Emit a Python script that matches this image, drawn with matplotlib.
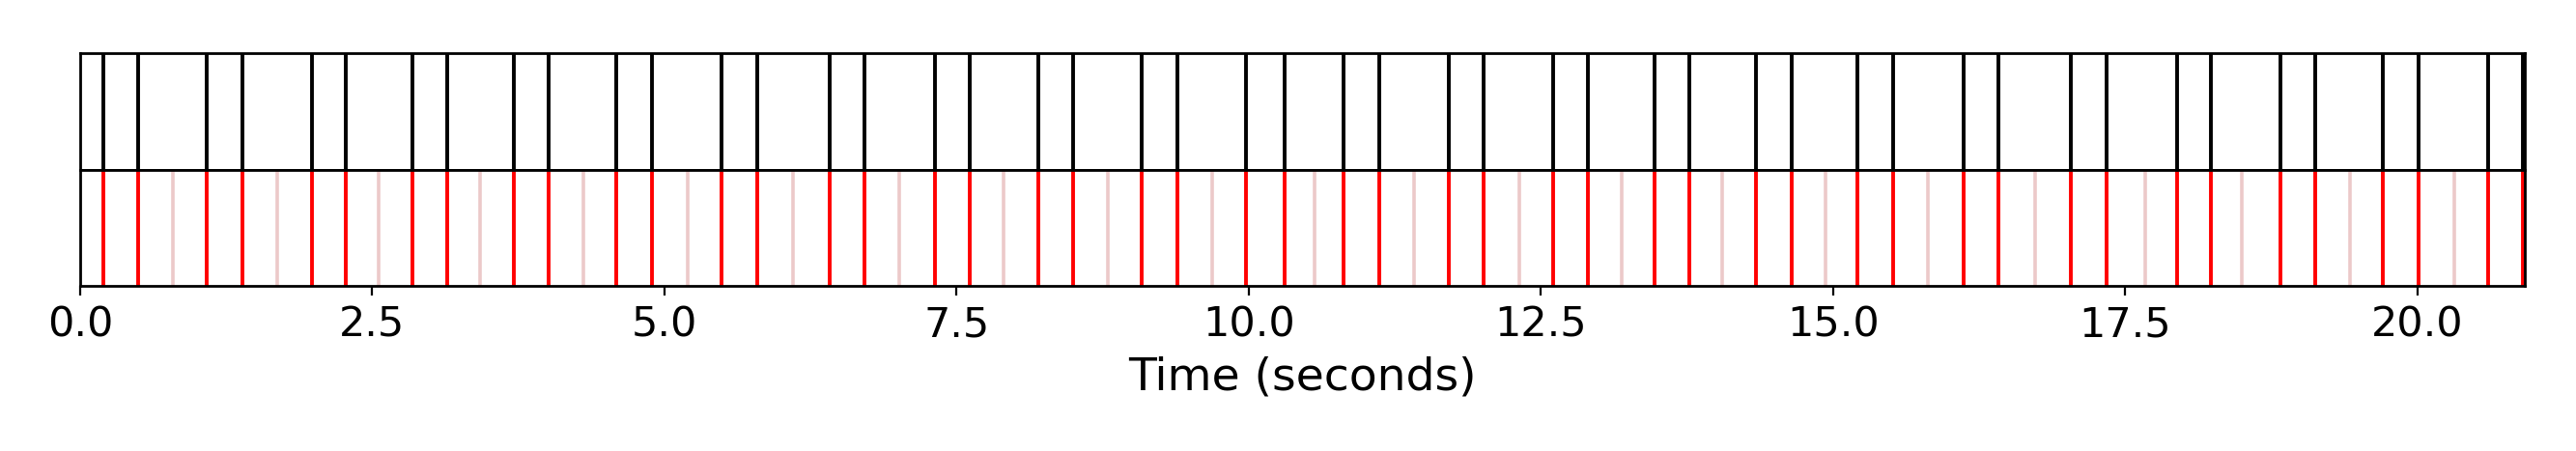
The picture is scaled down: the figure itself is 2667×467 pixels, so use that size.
import matplotlib
matplotlib.use("Agg")
import matplotlib.pyplot as plt

# beat positions (seconds)
strong_beats = [0.201, 0.493, 1.084, 1.387, 1.982, 2.270, 2.846, 3.142,
                3.714, 4.010, 4.590, 4.893, 5.488, 5.795, 6.412, 6.711,
                7.313, 7.612, 8.199, 8.499, 9.082, 9.393, 9.980, 10.305,
                10.815, 11.115, 11.710, 12.009, 12.607, 12.899, 13.475,
                13.767, 14.340, 14.643, 15.211, 15.514, 16.113, 16.412,
                17.034, 17.337, 17.940, 18.231, 18.826, 19.129, 19.703,
                20.013, 20.607, 20.900]
weak_beats = [0.792, 1.686, 2.554, 3.426, 4.305, 5.196, 6.102, 7.010,
              7.904, 8.791, 9.685, 10.563, 11.411, 12.312, 13.188, 14.048,
              14.931, 15.814, 16.727, 17.668, 18.495, 19.421, 20.319]
duration = 20.916
xticks = [0.0, 2.5, 5.0, 7.5, 10.0, 12.5, 15.0, 17.5, 20.0]

plt.rcParams["axes.linewidth"] = 1.0
fig = plt.figure(figsize=(13.335, 2.335), dpi=200)
left, width = 0.0311, 0.9489
ax_top = fig.add_axes([left, 0.623, width, 0.259])
ax_bot = fig.add_axes([left, 0.366, width, 0.257], sharex=ax_top)

# top: annotated onsets
ax_top.vlines(strong_beats, 0, 1, color="black", linewidth=1.4)
ax_top.set_ylim(0, 1)
ax_top.set_yticks([])
ax_top.tick_params(axis="x", bottom=False, labelbottom=False)

# bottom: strong beats in red, weak beats faded
ax_bot.vlines(weak_beats, 0, 1, color="#ecc9c9", linewidth=1.3)
ax_bot.vlines(strong_beats, 0, 1, color="red", linewidth=1.4)
ax_bot.set_ylim(0, 1)
ax_bot.set_yticks([])
ax_bot.set_xlim(0, duration)
ax_bot.set_xticks(xticks)
ax_bot.set_xticklabels([f"{t:.1f}" for t in xticks], fontsize=15.5)
ax_bot.set_xlabel("Time (seconds)", fontsize=17, labelpad=4)

plt.savefig("out.png", dpi=200)
